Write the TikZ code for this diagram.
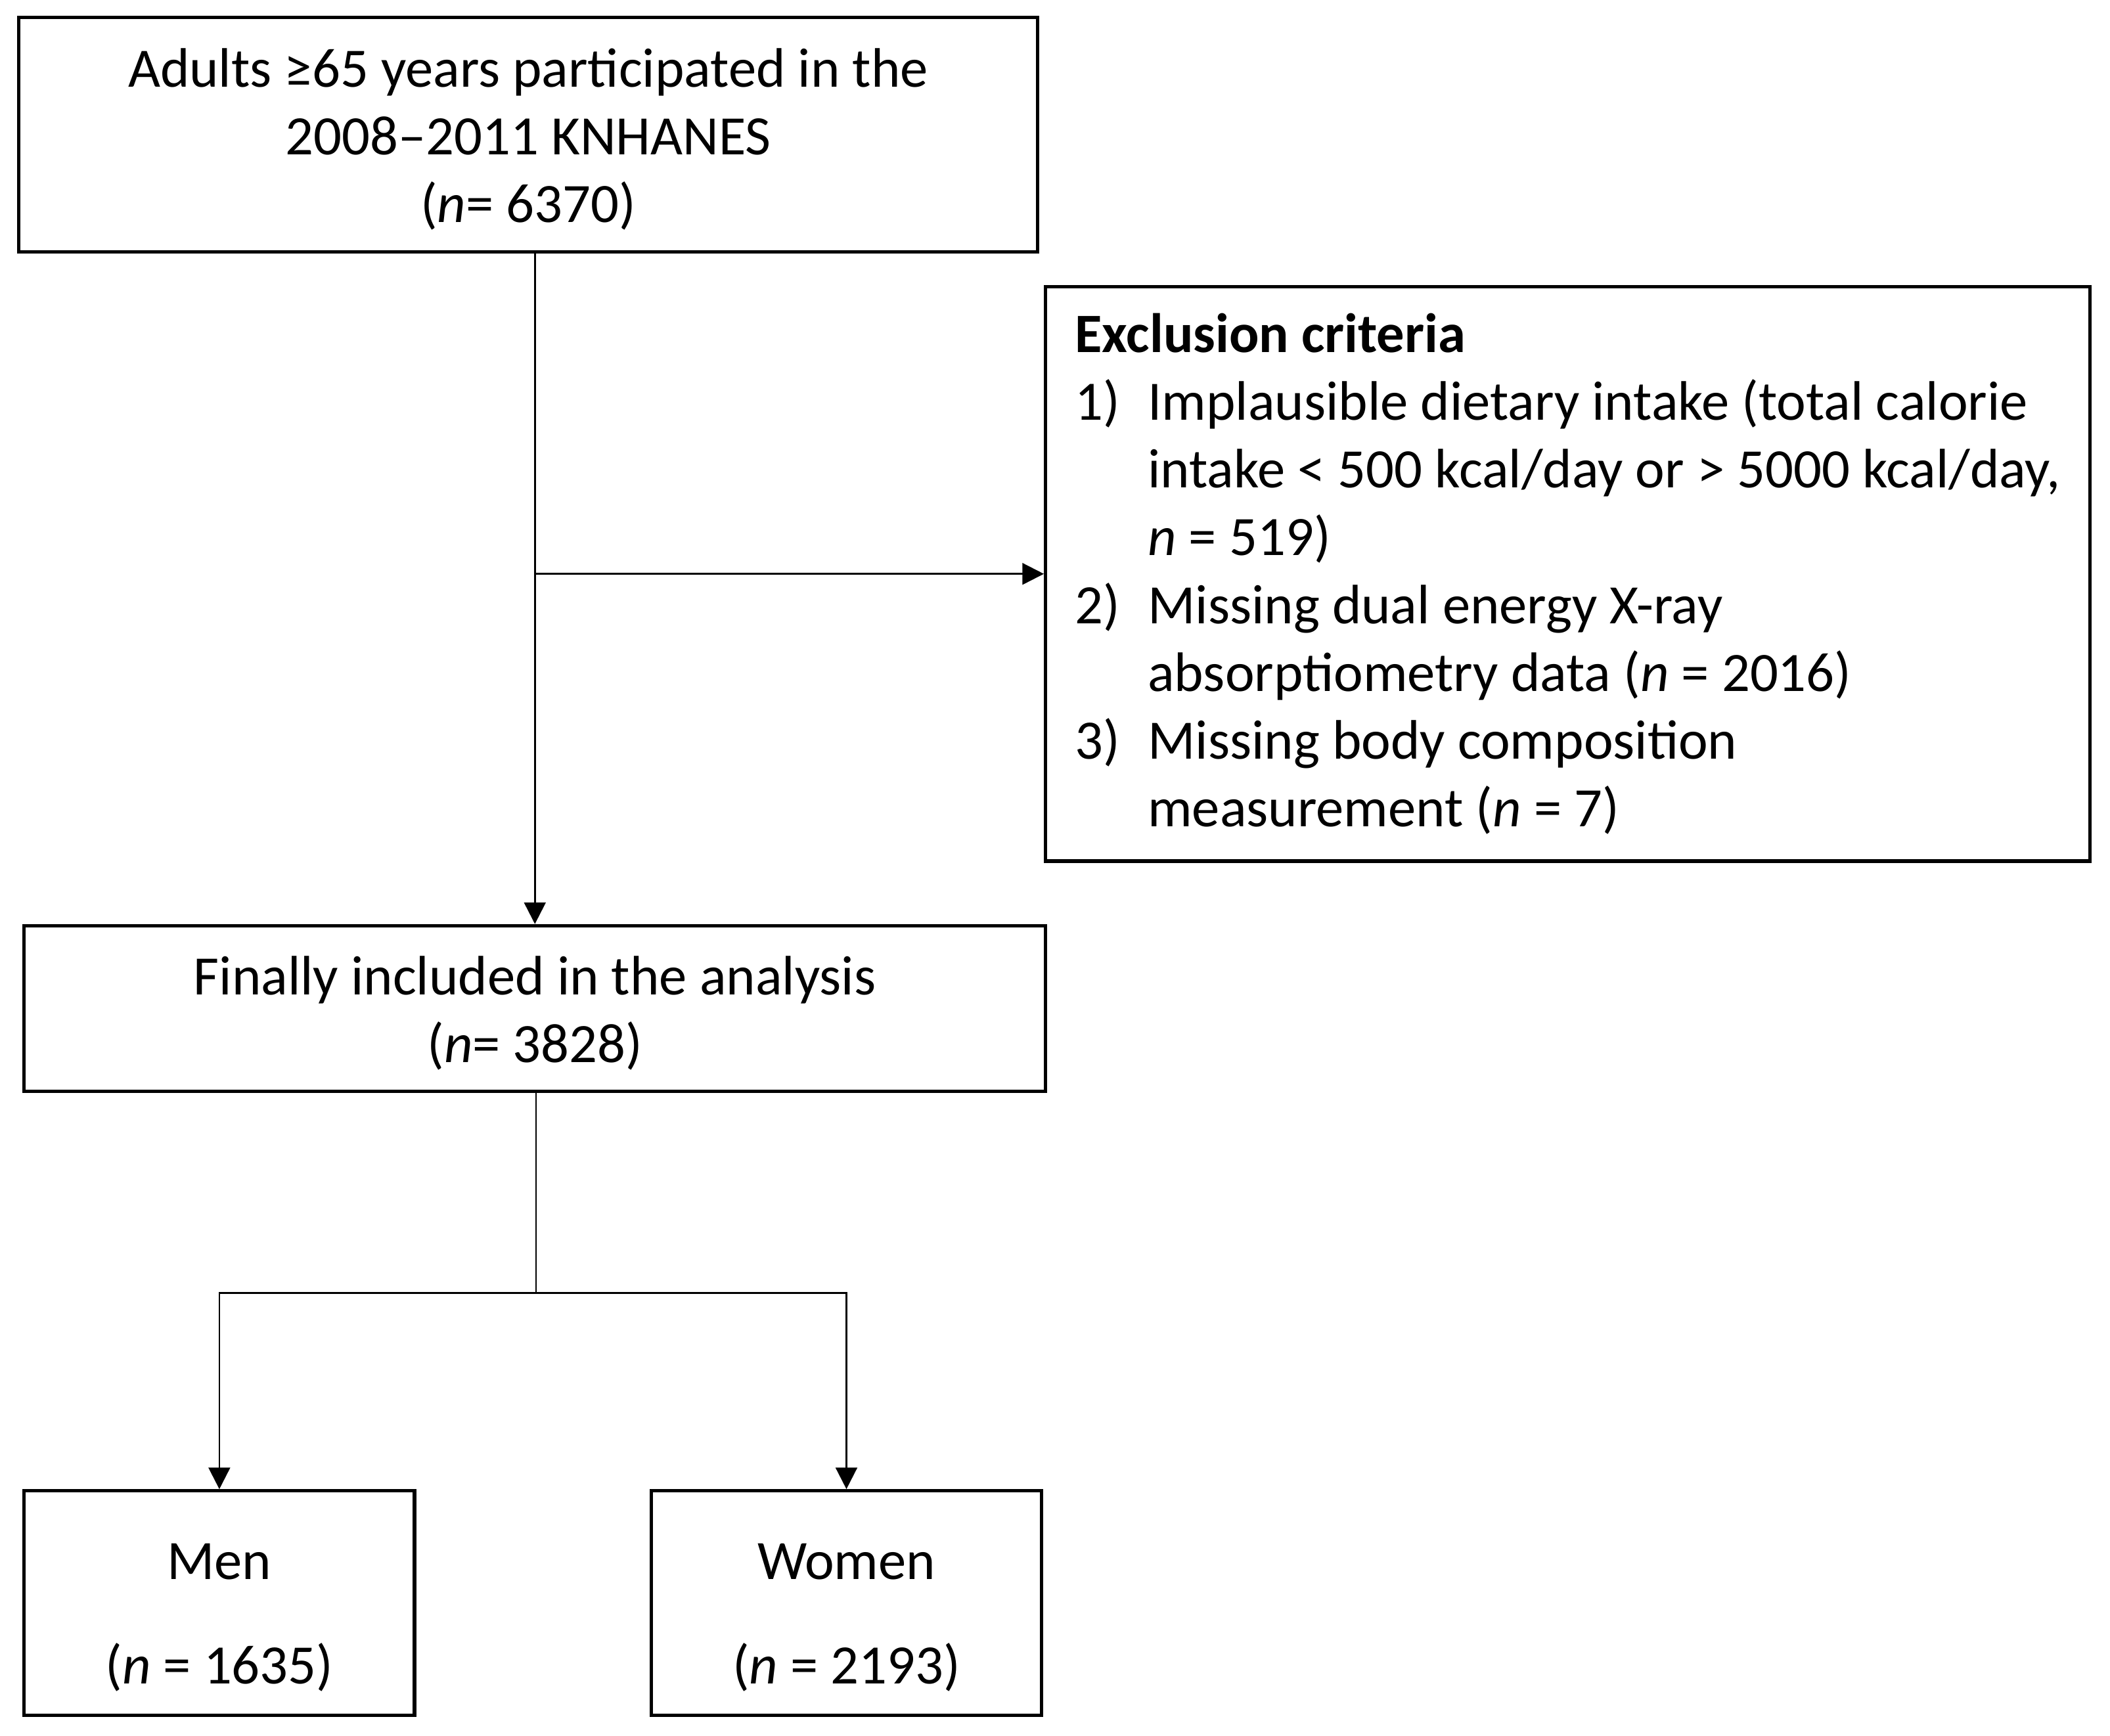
\documentclass[tikz,border=0pt]{standalone}
\usepackage{fontspec}
\setmainfont{Carlito}
\usepackage{tikz}
\usetikzlibrary{arrows.meta}

\begin{document}
\begin{tikzpicture}[
	font=\fontsize{14.7}{17.9}\selectfont,
	>={Triangle[length=2mm, width=2mm]},
	box/.style={draw, rectangle, align=center, line width=0.9pt, inner sep=0pt},
	link/.style={line width=0.45pt}
	]
	\useasboundingbox (0,0) rectangle (19.6,-16.125);
	
	\node[box, minimum width=9.4625cm, minimum height=2.175cm] (adults) at (4.906,-1.25) {\rule{0pt}{0.45cm}Adults ≥65 years participated in the\\2008–2011 KNHANES\\(\textit{n}= 6370)};
	
	\node[box, align=left, minimum width=9.7cm, minimum height=5.3375cm] (excl) at (14.5625,-5.33125) {\textbf{Exclusion criteria}\\
	\makebox[0.675cm][l]{1)}Implausible dietary intake (total calorie\\
	\makebox[0.675cm]{}intake < 500 kcal/day or > 5000 kcal/day,\\
	\makebox[0.675cm]{}\textit{n} = 519)\\
	\makebox[0.675cm][l]{2)}Missing dual energy X-ray\\
	\makebox[0.675cm]{}absorptiometry data (\textit{n} = 2016)\\
	\makebox[0.675cm][l]{3)}Missing body composition\\
	\makebox[0.675cm]{}measurement (\textit{n} = 7)};
	
	\node[box, minimum width=9.4875cm, minimum height=1.5375cm] (final) at (4.96875,-9.36875) {\rule{0pt}{0.45cm}Finally included in the analysis\\(\textit{n}= 3828)};
	
	\node[box, minimum width=3.625cm, minimum height=2.0875cm] (men) at (2.0375,-14.89375) {\rule{0pt}{0.6cm}Men\\[0.34cm](\textit{n} = 1635)};
	
	\node[box, minimum width=3.625cm, minimum height=2.0875cm] (women) at (7.8625,-14.89375) {\rule{0pt}{0.6cm}Women\\[0.34cm](\textit{n} = 2193)};
	
	\coordinate (split) at (4.98,-12.0125);
	
	\draw[->, link] (adults.south -| final.north) -- (final.north);
	
	\draw[->, link] (excl.west -| final.north) -- (excl.west);
	
	\draw[link] (final.south -| split) -- (split);
	
	\draw[->, link] (split) -| (men);
	
	\draw[->, link] (split) -| (women);
\end{tikzpicture}
\end{document}
